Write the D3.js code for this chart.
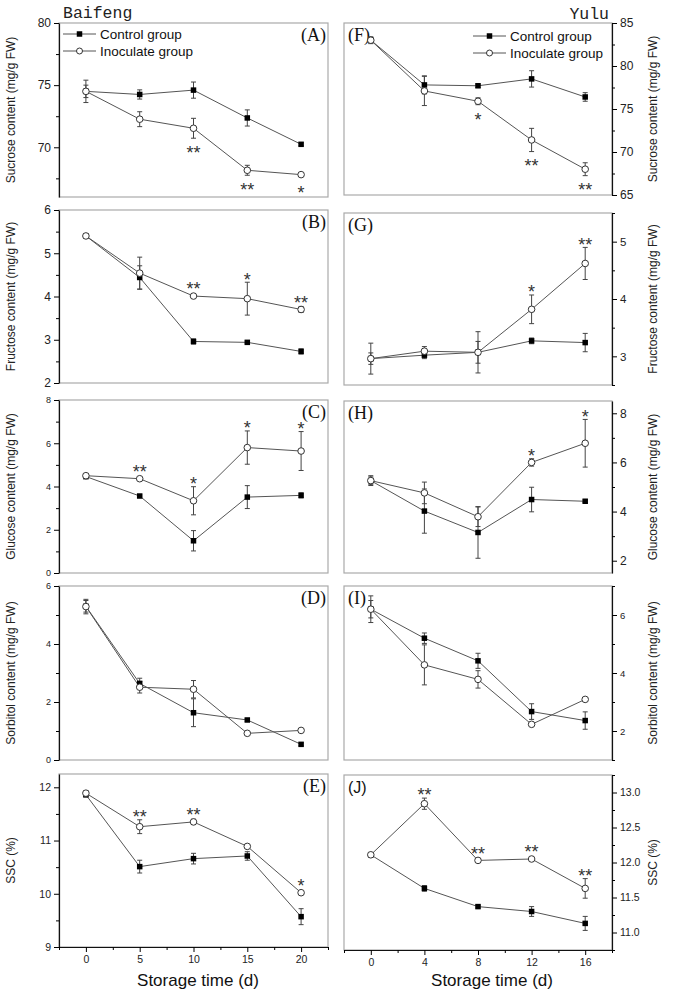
<!DOCTYPE html>
<html>
<head>
<meta charset="utf-8">
<script src="https://cdn.jsdelivr.net/npm/d3@7"></script>
<style>
  body { margin: 0; background: #fff; }
  svg text { font-family: "Liberation Sans", Arial, sans-serif; }
</style>
</head>
<body>
<svg id="chart" width="676" height="999"></svg>
<script>
// storage days
const daysBaifeng = [0, 5, 10, 15, 20];
const daysYulu = [0, 4, 8, 12, 16];

// (A) sucrose, Baifeng
const sucroseBfCtrl = [74.5, 74.25, 74.6, 72.36, 70.24];
const sucroseBfCtrlErr = [0.5, 0.37, 0.65, 0.65, 0.12];
const sucroseBfInoc = [74.5, 72.26, 71.53, 68.15, 67.8];
const sucroseBfInocErr = [0.9, 0.6, 0.8, 0.4, 0.1];
const sucroseBfStars = ["", "", "**", "**", "*"];

// (B) fructose, Baifeng
const fructoseBfCtrl = [5.4, 4.44, 2.96, 2.94, 2.73];
const fructoseBfCtrlErr = [0.03, 0.27, 0.06, 0.03, 0.06];
const fructoseBfInoc = [5.4, 4.54, 4.01, 3.95, 3.7];
const fructoseBfInocErr = [0.03, 0.37, 0.03, 0.38, 0.07];
const fructoseBfStars = ["", "", "**", "*", "**"];

// (C) glucose, Baifeng
const glucoseBfCtrl = [4.46, 3.56, 1.49, 3.51, 3.59];
const glucoseBfCtrlErr = [0.1, 0.05, 0.47, 0.53, 0.12];
const glucoseBfInoc = [4.5, 4.36, 3.34, 5.8, 5.64];
const glucoseBfInocErr = [0.1, 0.05, 0.65, 0.77, 0.9];
const glucoseBfStars = ["", "**", "*", "*", "*"];

// (D) sorbitol, Baifeng
const sorbitolBfCtrl = [5.3, 2.64, 1.63, 1.38, 0.54];
const sorbitolBfCtrlErr = [0.2, 0.18, 0.48, 0.05, 0.05];
const sorbitolBfInoc = [5.29, 2.51, 2.44, 0.92, 1.02];
const sorbitolBfInocErr = [0.25, 0.2, 0.3, 0.05, 0.04];
const sorbitolBfStars = ["", "", "", "", ""];

// (E) SSC, Baifeng
const sscBfCtrl = [11.86, 10.51, 10.66, 10.71, 9.57];
const sscBfCtrlErr = [0.04, 0.12, 0.1, 0.08, 0.15];
const sscBfInoc = [11.89, 11.26, 11.35, 10.89, 10.02];
const sscBfInocErr = [0.05, 0.13, 0.05, 0.03, 0.02];
const sscBfStars = ["", "**", "**", "", "*"];

// (F) sucrose, Yulu
const sucroseYlCtrl = [83.0, 77.8, 77.7, 78.5, 76.4];
const sucroseYlCtrlErr = [0.3, 1.05, 0.2, 0.95, 0.5];
const sucroseYlInoc = [83.0, 77.1, 75.9, 71.4, 68.0];
const sucroseYlInocErr = [0.4, 1.7, 0.4, 1.35, 0.75];
const sucroseYlStars = ["", "", "*", "**", "**"];

// (G) fructose, Yulu
const fructoseYlCtrl = [2.96, 3.02, 3.07, 3.27, 3.24];
const fructoseYlCtrlErr = [0.1, 0.06, 0.19, 0.05, 0.16];
const fructoseYlInoc = [2.96, 3.09, 3.07, 3.82, 4.62];
const fructoseYlInocErr = [0.27, 0.08, 0.36, 0.25, 0.28];
const fructoseYlStars = ["", "", "", "*", "**"];

// (H) glucose, Yulu
const glucoseYlCtrl = [5.26, 4.02, 3.15, 4.49, 4.42];
const glucoseYlCtrlErr = [0.15, 0.9, 1.05, 0.5, 0.05];
const glucoseYlInoc = [5.26, 4.76, 3.79, 6.0, 6.78];
const glucoseYlInocErr = [0.2, 0.44, 0.4, 0.15, 0.97];
const glucoseYlStars = ["", "", "", "*", "*"];

// (I) sorbitol, Yulu
const sorbitolYlCtrl = [6.2, 5.2, 4.42, 2.67, 2.36];
const sorbitolYlCtrlErr = [0.3, 0.18, 0.26, 0.27, 0.3];
const sorbitolYlInoc = [6.2, 4.28, 3.78, 2.23, 3.09];
const sorbitolYlInocErr = [0.46, 0.69, 0.3, 0.04, 0.04];
const sorbitolYlStars = ["", "", "", "", ""];

// (J) SSC, Yulu
const sscYlCtrl = [12.11, 11.63, 11.37, 11.3, 11.13];
const sscYlCtrlErr = [0.02, 0.04, 0.02, 0.07, 0.1];
const sscYlInoc = [12.11, 12.84, 12.03, 12.05, 11.63];
const sscYlInocErr = [0.02, 0.08, 0.03, 0.02, 0.14];
const sscYlStars = ["", "**", "**", "**", "**"];

const seriesNames = ["Control group", "Inoculate group"];

const lineColor = "#555",
  frameColor = "#aaa";

const columns = {
  left: { left: 59, right: 328, xDomain: [-2.5, 22.5], xStep: 2.5, side: "left", titleX: 12 },
  right: { left: 344, right: 612, xDomain: [-2, 18], xStep: 2, side: "right", titleX: 654 },
};

const panels = [
  { col: "left", top: 23, bottom: 197, yDomain: [66, 80], yTicks: [70, 75, 80], tickFont: 12, tag: "(A)",
    title: "Sucrose content (mg/g FW)", days: daysBaifeng, ctrl: sucroseBfCtrl, ctrlErr: sucroseBfCtrlErr,
    inoc: sucroseBfInoc, inocErr: sucroseBfInocErr, stars: sucroseBfStars, starSide: "below", legend: [63, 34] },
  { col: "left", top: 210, bottom: 383, yDomain: [2, 6], yTicks: [2, 3, 4, 5, 6], tickFont: 12, tag: "(B)",
    title: "Fructose content (mg/g FW)", days: daysBaifeng, ctrl: fructoseBfCtrl, ctrlErr: fructoseBfCtrlErr,
    inoc: fructoseBfInoc, inocErr: fructoseBfInocErr, stars: fructoseBfStars, starSide: "above" },
  { col: "left", top: 400, bottom: 573, yDomain: [0, 8], yTicks: [0, 2, 4, 6, 8], tickFont: 9, tag: "(C)",
    title: "Glucose content (mg/g FW)", days: daysBaifeng, ctrl: glucoseBfCtrl, ctrlErr: glucoseBfCtrlErr,
    inoc: glucoseBfInoc, inocErr: glucoseBfInocErr, stars: glucoseBfStars, starSide: "above" },
  { col: "left", top: 586, bottom: 760, yDomain: [0, 6], yTicks: [0, 2, 4, 6], tickFont: 9, tag: "(D)",
    title: "Sorbitol content (mg/g FW)", days: daysBaifeng, ctrl: sorbitolBfCtrl, ctrlErr: sorbitolBfCtrlErr,
    inoc: sorbitolBfInoc, inocErr: sorbitolBfInocErr, stars: sorbitolBfStars, starSide: "above" },
  { col: "left", top: 774, bottom: 947, yDomain: [9, 12.25], yTicks: [9, 10, 11, 12], tickFont: 10.5, tag: "(E)",
    title: "SSC (%)", days: daysBaifeng, ctrl: sscBfCtrl, ctrlErr: sscBfCtrlErr,
    inoc: sscBfInoc, inocErr: sscBfInocErr, stars: sscBfStars, starSide: "above", xAxis: true },
  { col: "right", top: 23, bottom: 195, yDomain: [65, 85], yTicks: [65, 70, 75, 80, 85], tickFont: 12, tag: "(F)",
    title: "Sucrose content (mg/g FW)", days: daysYulu, ctrl: sucroseYlCtrl, ctrlErr: sucroseYlCtrlErr,
    inoc: sucroseYlInoc, inocErr: sucroseYlInocErr, stars: sucroseYlStars, starSide: "below", legend: [473, 36] },
  { col: "right", top: 213, bottom: 385, yDomain: [2.5, 5.5], yTicks: [3, 4, 5], tickFont: 11.5, tag: "(G)",
    title: "Fructose content (mg/g FW)", days: daysYulu, ctrl: fructoseYlCtrl, ctrlErr: fructoseYlCtrlErr,
    inoc: fructoseYlInoc, inocErr: fructoseYlInocErr, stars: fructoseYlStars, starSide: "above" },
  { col: "right", top: 401, bottom: 573, yDomain: [1.5, 8.5], yTicks: [2, 4, 6, 8], tickFont: 12, tag: "(H)",
    title: "Glucose content (mg/g FW)", days: daysYulu, ctrl: glucoseYlCtrl, ctrlErr: glucoseYlCtrlErr,
    inoc: glucoseYlInoc, inocErr: glucoseYlInocErr, stars: glucoseYlStars, starSide: "above" },
  { col: "right", top: 586, bottom: 760, yDomain: [1, 7], yTicks: [2, 4, 6], tickFont: 9.5, tag: "(I)",
    title: "Sorbitol content (mg/g FW)", days: daysYulu, ctrl: sorbitolYlCtrl, ctrlErr: sorbitolYlCtrlErr,
    inoc: sorbitolYlInoc, inocErr: sorbitolYlInocErr, stars: sorbitolYlStars, starSide: "above" },
  { col: "right", top: 775, bottom: 950, yDomain: [10.75, 13.25], yTicks: [11, 11.5, 12, 12.5, 13], yFormat: ".1f",
    tickFont: 10.5, tag: "(J)", tagSans: true,
    title: "SSC (%)", days: daysYulu, ctrl: sscYlCtrl, ctrlErr: sscYlCtrlErr,
    inoc: sscYlInoc, inocErr: sscYlInocErr, stars: sscYlStars, starSide: "above", xAxis: true },
];

const svg = d3.select("#chart");

panels.forEach(drawPanel);

// cultivar names and x titles
svg.append("text").attr("x", 63).attr("y", 18)
  .style("font-family", "Liberation Mono, monospace")
  .attr("font-size", 16.5).attr("fill", "#222").text("Baifeng");
svg.append("text").attr("x", 609).attr("y", 19).attr("text-anchor", "end")
  .style("font-family", "Liberation Mono, monospace")
  .attr("font-size", 16.5).attr("fill", "#222").text("Yulu");

[198, 492].forEach(cx => {
  svg.append("text").attr("x", cx).attr("y", 986).attr("text-anchor", "middle")
    .attr("font-size", 17).attr("fill", "#111").text("Storage time (d)");
});

function minorTicks(majors, domain) {
  const step = majors.length > 1 ? majors[1] - majors[0] : 1;
  const out = [];
  for (let v = majors[0] - step / 2; v <= domain[1] + 1e-9; v += step) {
    if (v >= domain[0] - 1e-9) out.push(+v.toFixed(4));
  }
  return out;
}

function drawPanel(p) {
  const c = columns[p.col];
  const x = d3.scaleLinear().domain(c.xDomain).range([c.left, c.right]);
  const y = d3.scaleLinear().domain(p.yDomain).range([p.bottom, p.top]);
  const g = svg.append("g");

  // frame
  g.append("rect")
    .attr("x", c.left).attr("y", p.top)
    .attr("width", c.right - c.left).attr("height", p.bottom - p.top)
    .attr("fill", "none").attr("stroke", frameColor).attr("stroke-width", 1.2);

  // y axis
  const axisFn = c.side === "left" ? d3.axisLeft : d3.axisRight;
  const ax = c.side === "left" ? c.left : c.right;
  const yAxis = g.append("g")
    .attr("transform", `translate(${ax},0)`)
    .call(axisFn(y).tickValues(p.yTicks).tickSize(5).tickSizeOuter(0).tickPadding(3)
      .tickFormat(d3.format(p.yFormat || "d")));
  yAxis.attr("font-family", null).attr("font-size", p.tickFont);
  yAxis.selectAll("text").attr("fill", "#222");
  yAxis.select(".domain").attr("stroke", "#111").attr("stroke-width", 1.2);

  g.append("g")
    .attr("transform", `translate(${ax},0)`)
    .call(axisFn(y).tickValues(minorTicks(p.yTicks, p.yDomain)).tickSize(3).tickFormat(""))
    .call(a => a.select(".domain").remove());

  // x axis on the bottom panels
  if (p.xAxis) {
    const xAxis = g.append("g")
      .attr("transform", `translate(0,${p.bottom})`)
      .call(d3.axisBottom(x).tickValues(p.days).tickSize(5).tickSizeOuter(0).tickPadding(4));
    xAxis.attr("font-family", null).attr("font-size", 10.5);
    xAxis.selectAll("text").attr("fill", "#222");
    xAxis.select(".domain").attr("stroke", "#111").attr("stroke-width", 1.2);

    const minorX = d3.range(c.xDomain[0], c.xDomain[1] + 1e-9, c.xStep)
      .filter(v => !p.days.includes(+v.toFixed(4)));
    g.append("g")
      .attr("transform", `translate(0,${p.bottom})`)
      .call(d3.axisBottom(x).tickValues(minorX).tickSize(3).tickFormat(""))
      .call(a => a.select(".domain").remove());
  }

  // title
  g.append("text")
    .attr("transform", `translate(${c.titleX},${(p.top + p.bottom) / 2}) rotate(-90)`)
    .attr("text-anchor", "middle").attr("dominant-baseline", "middle")
    .attr("font-size", 12).attr("fill", "#222")
    .text(p.title);

  // panel tag
  g.append("text")
    .attr("x", c.side === "left" ? c.right - 2 : c.left + 4)
    .attr("y", p.top + 18)
    .attr("text-anchor", c.side === "left" ? "end" : "start")
    .style("font-family", p.tagSans ? "Liberation Sans, Arial, sans-serif" : "Liberation Serif, Times New Roman, serif")
    .attr("font-size", p.tagSans ? 16 : 18).attr("fill", "#111")
    .text(p.tag);

  const series = [
    { vals: p.ctrl, errs: p.ctrlErr, kind: "square" },
    { vals: p.inoc, errs: p.inocErr, kind: "circle" },
  ];

  const line = d3.line().x((d, i) => x(p.days[i])).y(d => y(d));

  series.forEach(s => {
    g.append("path").attr("d", line(s.vals))
      .attr("fill", "none").attr("stroke", lineColor).attr("stroke-width", 1);
  });

  series.forEach(s => {
    const eb = g.append("g").attr("stroke", "#444").attr("stroke-width", 1);
    s.vals.forEach((v, i) => {
      const cx = x(p.days[i]), y0 = y(v - s.errs[i]), y1 = y(v + s.errs[i]);
      eb.append("line").attr("x1", cx).attr("x2", cx).attr("y1", y0).attr("y2", y1);
      eb.append("line").attr("x1", cx - 2.5).attr("x2", cx + 2.5).attr("y1", y0).attr("y2", y0);
      eb.append("line").attr("x1", cx - 2.5).attr("x2", cx + 2.5).attr("y1", y1).attr("y2", y1);
    });
  });

  g.selectAll(".sq").data(p.ctrl).join("rect")
    .attr("x", (d, i) => x(p.days[i]) - 2.75).attr("y", d => y(d) - 2.75)
    .attr("width", 5.5).attr("height", 5.5).attr("fill", "#000");

  g.selectAll(".ci").data(p.inoc).join("circle")
    .attr("cx", (d, i) => x(p.days[i])).attr("cy", d => y(d)).attr("r", 3.3)
    .attr("fill", "#fff").attr("stroke", "#333").attr("stroke-width", 1);

  // significance marks
  p.stars.forEach((s, i) => {
    if (!s) return;
    const v = p.inoc[i], e = p.inocErr[i];
    let cy;
    if (p.starSide === "above") cy = Math.min(y(v + e), y(v) - 4) - 7;
    else cy = Math.max(y(v - e), y(v) + 4) + 10;
    g.append("text")
      .attr("x", x(p.days[i])).attr("y", cy + 10.3)
      .attr("text-anchor", "middle").attr("font-size", 18).attr("fill", "#333")
      .text(s);
  });

  // legend
  if (p.legend) {
    const [lx, ly] = p.legend;
    seriesNames.forEach((name, k) => {
      const yy = ly + k * 17;
      g.append("line").attr("x1", lx).attr("x2", lx + 33).attr("y1", yy).attr("y2", yy)
        .attr("stroke", lineColor).attr("stroke-width", 1);
      if (k === 0) {
        g.append("rect").attr("x", lx + 13.75).attr("y", yy - 2.75).attr("width", 5.5).attr("height", 5.5).attr("fill", "#000");
      } else {
        g.append("circle").attr("cx", lx + 16.5).attr("cy", yy).attr("r", 3)
          .attr("fill", "#fff").attr("stroke", "#333");
      }
      g.append("text").attr("x", lx + 37).attr("y", yy + 4.5)
        .attr("font-size", 13.5).attr("fill", "#111").text(name);
    });
  }
}
</script>
</body>
</html>
